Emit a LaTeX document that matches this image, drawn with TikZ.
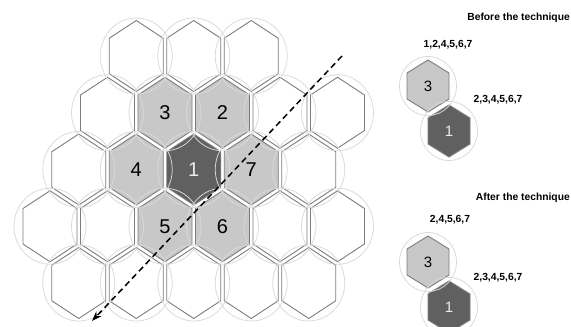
\documentclass[tikz,border=0pt]{standalone}
\usepackage{fontspec}
\setmainfont{Liberation Sans}
\usetikzlibrary{arrows.meta}
\definecolor{hexline}{RGB}{125,125,125}
\definecolor{ringc}{RGB}{218,218,218}
\definecolor{lightcell}{RGB}{200,200,200}
\definecolor{darkcell}{RGB}{96,96,96}
\definecolor{numlight}{RGB}{235,235,235}
\tikzset{
  cellline/.style={draw=hexline, line width=0.9pt, line join=miter},
  pics/bighex/.style={code={
    \draw[cellline, fill=#1] (0,-35.5) -- (27,-17.75) -- (27,17.75) -- (0,35.5) -- (-27,17.75) -- (-27,-17.75) -- cycle;}},
  pics/smallhex/.style={code={
    \draw[cellline, fill=#1] (0,-26) -- (21,-13) -- (21,13) -- (0,26) -- (-21,13) -- (-21,-13) -- cycle;}},
  bigring/.style={draw=ringc, line width=0.75pt},
  bignum/.style={font=\fontsize{20}{20}\selectfont, text=black, inner sep=0pt},
  smallnum/.style={font=\fontsize{15}{15}\selectfont, text=black, inner sep=0pt},
  caption/.style={font=\bfseries\fontsize{10.3}{11}\selectfont, text=black, inner sep=0pt},
  pathline/.style={line width=1.5pt, dash pattern=on 6pt off 4pt, -{Stealth[length=10pt,width=7pt]}}
}
\begin{document}
\begin{tikzpicture}[x=1pt,y=-1pt]
\useasboundingbox (0,0) rectangle (571,327);
\fill[white] (0,0) rectangle (571,327);
% cell centres
\foreach \r/\c in {0/3,0/5,0/7,
                   1/2,1/4,1/6,1/8,1/10,
                   2/1,2/3,2/5,2/7,2/9,
                   3/0,3/2,3/4,3/6,3/8,3/10,
                   4/1,4/3,4/5,4/7,4/9}{
  \coordinate (c\r-\c) at ({50+\c*28.75},{56+\r*56.75});
}
% white cells
\foreach \r/\c in {0/3,0/5,0/7,1/2,1/8,1/10,2/1,2/9,3/0,3/2,3/8,3/10,4/1,4/3,4/5,4/7,4/9}{
  \pic at (c\r-\c) {bighex=white};
}
% grey cells
\foreach \r/\c in {1/4,1/6,2/3,2/7,3/4,3/6}{
  \pic at (c\r-\c) {bighex=lightcell};
}
\pic at (c2-5) {bighex=darkcell};
% rings
\foreach \r/\c in {0/3,0/5,0/7,
                   1/2,1/4,1/6,1/8,1/10,
                   2/1,2/3,2/5,2/7,2/9,
                   3/0,3/2,3/4,3/6,3/8,3/10,
                   4/1,4/3,4/5,4/7,4/9}{
  \draw[bigring] (c\r-\c) ellipse [x radius=36pt, y radius=38pt];
}
% numbers
\node[bignum] (n3) at (c1-4) {3};
\node[bignum] (n2) at (c1-6) {2};
\node[bignum] (n4) at (c2-3) {4};
\node[bignum, text=numlight] (n1) at (c2-5) {1};
\node[bignum] (n7) at (c2-7) {7};
\node[bignum] (n5) at (c3-4) {5};
\node[bignum] (n6) at (c3-6) {6};
% dashed direction arrow
\coordinate (arrS) at (342,56);
\coordinate (arrE) at (92,321);
\draw[pathline] (arrS) -- (arrE);

% ---- right panel: before ----
\coordinate (b3) at (428,86);
\coordinate (b1) at (449,131);
\pic at (b3) {smallhex=lightcell};
\pic at (b1) {smallhex=darkcell};
\draw[bigring] (b3) ellipse [x radius=28.5pt, y radius=29.5pt];
\draw[bigring] (b1) ellipse [x radius=28.5pt, y radius=29.5pt];
\node[smallnum] (bn3) at (b3) {3};
\node[smallnum, text=numlight] (bn1) at (b1) {1};
\node[caption, anchor=east] (tbefore) at (570,18) {Before the technique};
\node[caption] (lb3) at (448,45) {1,2,4,5,6,7};
\node[caption] (lb1) at (498,100) {2,3,4,5,6,7};

% ---- right panel: after ----
\coordinate (a3) at (428,262);
\coordinate (a1) at (449,307);
\pic at (a3) {smallhex=lightcell};
\pic at (a1) {smallhex=darkcell};
\draw[bigring] (a3) ellipse [x radius=28.5pt, y radius=29.5pt];
\draw[bigring] (a1) ellipse [x radius=28.5pt, y radius=29.5pt];
\node[smallnum] (an3) at (a3) {3};
\node[smallnum, text=numlight] (an1) at (a1) {1};
\node[caption, anchor=east] (tafter) at (570,198) {After the technique};
\node[caption] (la3) at (450,220) {2,4,5,6,7};
\node[caption] (la1) at (498,278) {2,3,4,5,6,7};
\end{tikzpicture}
\end{document}
